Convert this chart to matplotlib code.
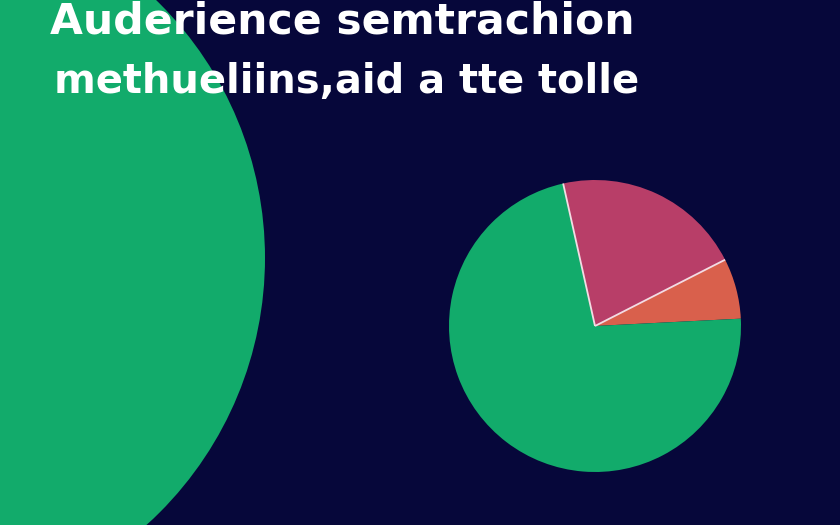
import numpy as np
import matplotlib
matplotlib.use("Agg")
import matplotlib.pyplot as plt
from matplotlib.patches import Circle

# title lines (kept as in the picture)
title_lines = ["Auderience semtrachion", "methueliins,aid a tte tolle"]

# pie shares, clockwise from the top boundary
labels = ["Segment B", "Segment C", "Segment A"]
shares = [21.0, 6.7, 72.3]
colors = ["#b83e68", "#d9604c", "#12ab6b"]

bg = "#06073a"

fig = plt.figure(figsize=(8.4, 5.25), dpi=100, facecolor=bg)
ax = fig.add_axes([0, 0, 1, 1])
ax.set_facecolor(bg)

# big decorative circle on the left
ax.add_patch(Circle((-95, 525 - 258), 360, fc="#12ab6b", ec="none", zorder=1))

cx, cy, r = 595, 525 - 326, 146
wedges, _ = ax.pie(shares, colors=colors, startangle=102.6, counterclock=False,
                   center=(cx, cy), radius=r, frame=True,
                   wedgeprops=dict(linewidth=0))
for w in wedges:
    w.set_zorder(2)

# thin light lines on the two boundaries of the pink slice
for ang in [wedges[0].theta2, wedges[0].theta1]:
    a = np.deg2rad(ang)
    ax.plot([cx, cx + r * np.cos(a)], [cy, cy + r * np.sin(a)],
            color="#f3dce4", lw=1.3, zorder=3, solid_capstyle="butt")

ax.set_xlim(0, 840)
ax.set_ylim(0, 525)
ax.set_aspect("equal")
ax.axis("off")

starts = [50, 54]
widths = [583, 584]
texts = []
for i, line in enumerate(title_lines):
    t = ax.text(starts[i], 525 - 34 - i * 59, line, color="white", fontsize=28,
                fontweight="bold", family=["DejaVu Sans"],
                ha="left", va="baseline", zorder=5)
    texts.append(t)

# scale each title line to the width it has in the original
fig.canvas.draw()
rend = fig.canvas.get_renderer()
for t, wt in zip(texts, widths):
    w = t.get_window_extent(rend).width
    t.set_fontsize(28 * wt / w)

fig.savefig("out.png", dpi=100, facecolor=bg)
